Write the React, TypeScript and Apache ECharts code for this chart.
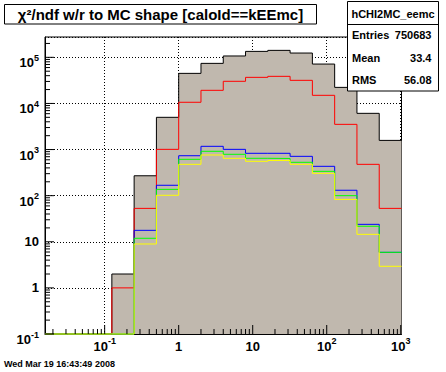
import React, { useEffect, useRef } from 'react';
import * as echarts from 'echarts';

// ---- data ----
const binEdges = [0.015625, 0.03125, 0.0625, 0.125, 0.25, 0.5, 1, 2, 4, 8, 16, 32, 64, 128, 256, 512, 1024];
const allValues = [0, 0, 0, 2, 270, 5000, 44900, 74000, 107000, 134600, 141600, 123900, 71500, 22300, 6100, 1580];
const redValues = [0, 0, 0, 1, 53, 1010, 10600, 19250, 30200, 36800, 38700, 31700, 15000, 3520, 478, 53];
const blueValues = [0, 0, 0, 0, 17.7, 168, 735, 1175, 1010, 829, 829, 713, 433, 131, 23.9, 5.9];
const greenValues = [0, 0, 0, 0, 11.9, 137, 614, 916, 789, 646, 640, 529, 337, 100, 21.7, 5.9];
const yellowValues = [0, 0, 0, 0, 8.95, 102, 478, 762, 646, 556, 580, 478, 305, 83, 14.5, 2.94];

const labelExponents = [-1, 0, 1, 2, 3, 4, 5];
const labelBase = ['10', '1', '10', '10', '10', '10', '10'];
const labelSup = ['-1', '', '', '2', '3', '4', '5'];
const xDecades = [0.01, 0.1, 1, 10, 100, 1000];
const yDecades = [0.1, 1, 10, 100, 1000, 10000, 100000];
const minorMultipliers = [2, 3, 4, 5, 6, 7, 8, 9];

const statsTitle = 'hCHI2MC_eemc';
const statsLabels = ['Entries', 'Mean', 'RMS'];
const statsValues = ['750683', '33.4', '56.08'];
const titleText = 'χ²/ndf w/r to MC shape [caloId==kEEmc]';
const dateText = 'Wed Mar 19 16:43:49 2008';

const X_MIN = 0.015625;
const X_MAX = 1024;
const Y_MIN = 0.1;
const Y_MAX = 2.76e5;

const FONT = 'Liberation Sans, Arial, Helvetica, sans-serif';
const FILL = '#c0b8ae';

function buildTicks(decades: number[], lo: number, hi: number) {
  const out: { v: number; major: boolean }[] = [];
  decades.forEach((d) => {
    if (d >= lo * 0.9999 && d <= hi * 1.0001) out.push({ v: d, major: true });
    minorMultipliers.forEach((m) => {
      const v = d * m;
      if (v >= lo && v <= hi) out.push({ v, major: false });
    });
  });
  return out;
}

function labelFormatter(v: number) {
  const e = Math.log10(v);
  const r = Math.round(e);
  if (Math.abs(e - r) > 1e-6) return '';
  const i = labelExponents.indexOf(r);
  if (i < 0) return '';
  return labelSup[i] ? `{b|${labelBase[i]}}{s|${labelSup[i]}}` : `{p|${labelBase[i]}}`;
}

function histSeries(values: number[], color: string, z: number, fill?: string) {
  const data: number[][] = values.map((v, i) => [binEdges[i], Math.max(v, Y_MIN)]);
  data.push([binEdges[values.length], Math.max(values[values.length - 1], Y_MIN)]);
  const s: any = {
    type: 'line',
    data,
    step: 'end',
    symbol: 'none',
    showSymbol: false,
    clip: false,
    silent: true,
    z,
    lineStyle: { color, width: 1 },
  };
  if (fill) s.areaStyle = { color: fill, opacity: 1, origin: 'start' };
  return s;
}

export default function App() {
  const ref = useRef<HTMLDivElement>(null);
  useEffect(() => {
    if (!ref.current) return;
    const chart = echarts.init(ref.current, null, { renderer: 'svg' });
    const xTicks = buildTicks(xDecades, X_MIN, X_MAX).map((t) => [t.v, Y_MIN, t.major ? 9 : 5]);
    const yTicks = buildTicks(yDecades, Y_MIN, Y_MAX).map((t) => [X_MIN, t.v, t.major ? 9 : 5]);

    const boldText = { fontFamily: FONT, fontWeight: 'bold' as const, color: '#000' };

    const option: any = {
      animation: false,
      backgroundColor: '#fff',
      grid: {
        left: 45,
        top: 37,
        width: 356.5,
        height: 297,
        show: true,
        borderColor: '#000',
        borderWidth: 1,
        backgroundColor: 'transparent',
        containLabel: false,
      },
      xAxis: {
        type: 'log',
        logBase: 10,
        min: X_MIN,
        max: X_MAX,
        axisLine: { show: true, lineStyle: { color: '#000', width: 1 } },
        axisTick: { show: false },
        splitLine: { show: true, lineStyle: { color: '#000', width: 1, type: [1, 2] } },
        axisLabel: {
          margin: 3.5,
          formatter: labelFormatter,
          rich: {
            b: { ...boldText, fontSize: 13, lineHeight: 14, padding: [3.5, 0, 0, 0] },
            s: { ...boldText, fontSize: 9, lineHeight: 10, padding: [0, 0, 7.5, 0] },
            p: { ...boldText, fontSize: 13, lineHeight: 14, padding: [3.5, 0, 0, 0] },
          },
        },
      },
      yAxis: {
        type: 'log',
        logBase: 10,
        min: Y_MIN,
        max: Y_MAX,
        axisLine: { show: true, lineStyle: { color: '#000', width: 1 } },
        axisTick: { show: false },
        splitLine: { show: true, lineStyle: { color: '#000', width: 1, type: [1, 2] } },
        axisLabel: {
          margin: 6,
          formatter: labelFormatter,
          rich: {
            b: { ...boldText, fontSize: 13, lineHeight: 14, padding: [11, 0, 0, 0] },
            s: { ...boldText, fontSize: 9, lineHeight: 10, padding: [8, 0, 7, 0] },
            p: { ...boldText, fontSize: 13, lineHeight: 14 },
          },
        },
      },
      series: [
        histSeries(allValues, '#000', 2, FILL),
        histSeries(redValues, '#ff0000', 3),
        histSeries(blueValues, '#0000ff', 4),
        histSeries(greenValues, '#00ff00', 5),
        histSeries(yellowValues, '#ffff00', 6),
        {
          type: 'custom',
          silent: true,
          clip: false,
          z: 7,
          data: xTicks,
          encode: { x: 0, y: 1 },
          renderItem: (_p: any, api: any) => {
            const pt = api.coord([api.value(0), api.value(1)]);
            const len = api.value(2);
            return {
              type: 'line',
              shape: { x1: pt[0], y1: pt[1], x2: pt[0], y2: pt[1] - len },
              style: { stroke: '#000', lineWidth: 1 },
            };
          },
        },
        {
          type: 'custom',
          silent: true,
          clip: false,
          z: 7,
          data: yTicks,
          encode: { x: 0, y: 1 },
          renderItem: (_p: any, api: any) => {
            const pt = api.coord([api.value(0), api.value(1)]);
            const len = api.value(2);
            return {
              type: 'line',
              shape: { x1: pt[0], y1: pt[1], x2: pt[0] + len, y2: pt[1] },
              style: { stroke: '#000', lineWidth: 1 },
            };
          },
        },
      ],
      graphic: [
        {
          type: 'rect',
          z: 100,
          shape: { x: 4.5, y: 4.5, width: 312, height: 19.5 },
          style: { fill: '#fff', stroke: '#000', lineWidth: 1 },
        },
        {
          type: 'text',
          z: 101,
          x: 160.5,
          y: 14.5,
          style: { text: titleText, ...boldText, fill: '#000', fontSize: 15, align: 'center', verticalAlign: 'middle' },
        },
        {
          type: 'rect',
          z: 100,
          shape: { x: 347.5, y: 1.5, width: 91, height: 89.5 },
          style: { fill: '#fff', stroke: '#000', lineWidth: 1 },
        },
        {
          type: 'line',
          z: 101,
          shape: { x1: 347.5, y1: 24.5, x2: 438.5, y2: 24.5 },
          style: { stroke: '#000', lineWidth: 1 },
        },
        {
          type: 'text',
          z: 101,
          x: 393,
          y: 14,
          style: { text: statsTitle, ...boldText, fill: '#000', fontSize: 11, align: 'center', verticalAlign: 'middle' },
        },
        ...statsLabels.map((l, i) => ({
          type: 'text',
          z: 101,
          x: 352,
          y: [35, 57.5, 79.7][i],
          style: { text: l, ...boldText, fill: '#000', fontSize: 11, align: 'left', verticalAlign: 'middle' },
        })),
        ...statsValues.map((v, i) => ({
          type: 'text',
          z: 101,
          x: 431.5,
          y: [35, 57.5, 79.7][i],
          style: { text: v, ...boldText, fill: '#000', fontSize: 11, align: 'right', verticalAlign: 'middle' },
        })),
        {
          type: 'text',
          z: 101,
          x: 4,
          y: 364,
          style: { text: dateText, ...boldText, fill: '#000', fontSize: 9, align: 'left', verticalAlign: 'middle' },
        },
      ],
    };
    chart.setOption(option);
    return () => chart.dispose();
  }, []);
  return (
    <div
      ref={ref}
      style={{ position: 'fixed', left: 0, top: 0, width: 446, height: 372, background: '#fff' }}
    />
  );
}
